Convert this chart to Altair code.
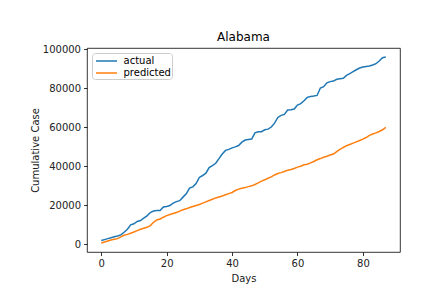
import altair as alt
import pandas as pd

days = list(range(88))
actual = [1900, 2400, 2900, 3400, 3900, 4300, 4800, 6200, 7700, 10000,
          10500, 11700, 12200, 13400, 14600, 16300, 17100, 17300, 17300, 19200,
          19400, 19900, 21100, 21900, 22400, 24200, 25900, 28800, 29500, 31200,
          34300, 35300, 36500, 39400, 40400, 41600, 44000, 46300, 48200, 48700,
          49500, 50000, 50700, 52400, 53500, 53800, 54000, 57200, 57800, 57800,
          58800, 59100, 60200, 62200, 65100, 66200, 66700, 68900, 69100, 69400,
          71500, 72200, 73700, 75400, 75900, 76100, 76400, 80200, 80900, 82900,
          83500, 83800, 84700, 85000, 85200, 86700, 87600, 88600, 89600, 90500,
          91000, 91300, 91500, 92000, 92700, 94100, 95800, 96100]
predicted = [700, 1200, 1700, 2200, 2600, 2900, 3800, 4600, 5100, 5700,
             6300, 7000, 7700, 8200, 8700, 9600, 11300, 12500, 13000, 13900,
             14700, 15300, 15800, 16300, 17000, 17700, 18200, 18900, 19400, 19900,
             20400, 21100, 21800, 22500, 23100, 23800, 24300, 24800, 25400, 26000,
             26600, 27600, 28300, 28800, 29100, 29600, 30000, 30700, 31500, 32400,
             33100, 33900, 34600, 35600, 36300, 36800, 37400, 38000, 38400, 38900,
             39600, 40100, 40800, 41100, 41800, 42500, 43400, 44000, 44700, 45200,
             45800, 46300, 47600, 48700, 49700, 50600, 51200, 51900, 52600, 53300,
             54000, 54800, 55900, 56600, 57200, 57900, 58800, 60000]
series_names = ["actual", "predicted"]
series_colors = ["#1f77b4", "#ff7f0e"]
x_ticks = [0, 20, 40, 60, 80]
y_ticks = [0, 20000, 40000, 60000, 80000, 100000]

df = pd.concat([
    pd.DataFrame({"Days": days, "value": actual, "series": "actual"}),
    pd.DataFrame({"Days": days, "value": predicted, "series": "predicted"}),
])

FONT = "DejaVu Sans"

chart = alt.Chart(df).mark_line(strokeWidth=1.5).encode(
    x=alt.X("Days:Q",
            scale=alt.Scale(domain=[-4.35, 91.35], nice=False, zero=False),
            axis=alt.Axis(values=x_ticks, title="Days", format="d", titlePadding=5)),
    y=alt.Y("value:Q",
            scale=alt.Scale(domain=[-3960, 100760], nice=False, zero=False),
            axis=alt.Axis(values=y_ticks, title="Cumulative Case", format="d", titlePadding=2)),
    color=alt.Color("series:N",
                    scale=alt.Scale(domain=series_names, range=series_colors),
                    legend=alt.Legend(title=None, orient="none", legendX=5, legendY=5,
                                      symbolType="M-1.75,0H1.75", symbolSize=144,
                                      symbolStrokeWidth=1.5, symbolOffset=6.5,
                                      labelFontSize=10, labelFont=FONT, labelColor="#000",
                                      strokeColor="#cccccc", cornerRadius=3,
                                      fillColor="white", padding=1,
                                      rowPadding=0, labelOffset=10)),
).properties(
    width=313, height=204,
    title=alt.TitleParams("Alabama", fontSize=12, font=FONT, fontWeight="normal",
                          color="#000", offset=0, anchor="middle"),
    autosize=alt.AutoSizeParams(type="none"),
    padding={"left": 79, "top": 40, "right": 22, "bottom": 36},
).configure_view(
    stroke="#000", strokeWidth=0.8
).configure_axis(
    grid=False, domain=False, tickColor="#000", tickSize=3.5, tickWidth=0.8,
    labelFont=FONT, labelFontSize=10, labelColor="#222", labelPadding=3,
    titleFont=FONT, titleFontSize=10, titleFontWeight="normal", titleColor="#222",
    labelFlush=False
)

chart.save("out.html", embed_options={"renderer": "svg", "actions": False})
